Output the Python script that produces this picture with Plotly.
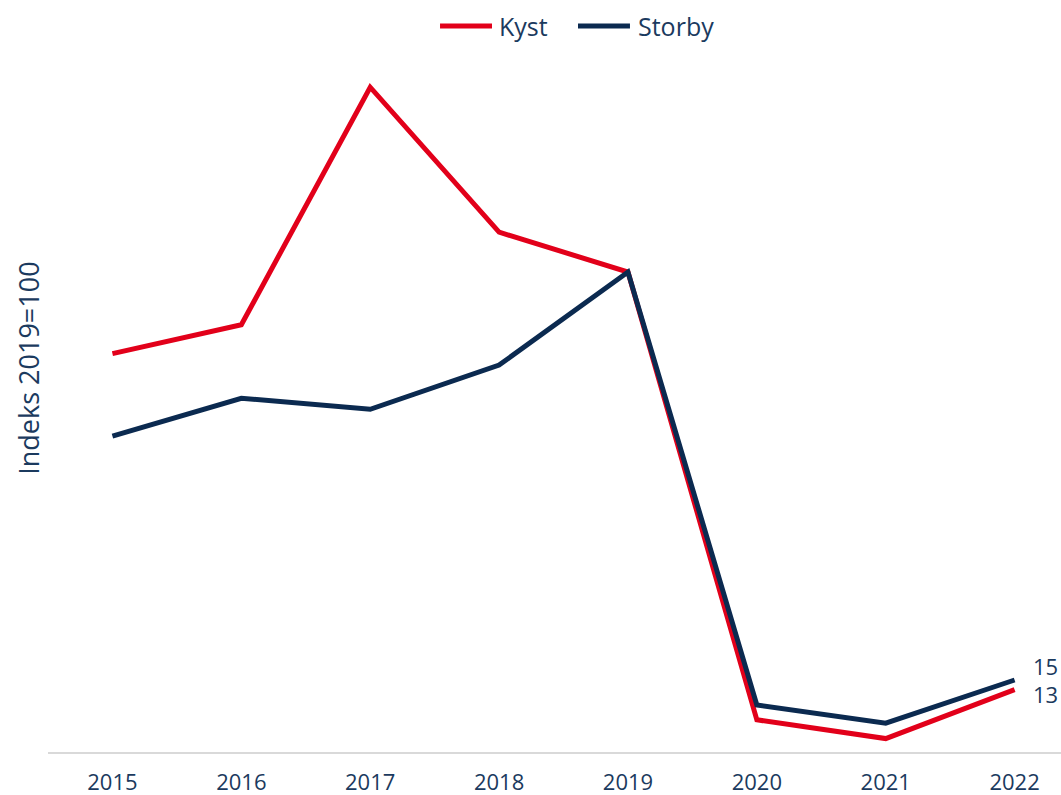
import plotly.graph_objects as go

years = ["2015", "2016", "2017", "2018", "2019", "2020", "2021", "2022"]
kyst = [83, 89, 138.5, 108.3, 100, 6.7, 2.8, 13]
storby = [65.8, 73.7, 71.4, 80.6, 100, 9.8, 6.0, 15]
series_names = ["Kyst", "Storby"]
end_labels = ["15", "13"]

RED = "#e2001a"
NAVY = "#0b2a50"
TXT = "#1b3a5e"
FONT = "Open Sans"

xs = list(range(len(years)))

fig = go.Figure()
fig.add_trace(go.Scatter(x=xs, y=kyst, mode="lines", name=series_names[0],
                         line=dict(color=RED, width=5), showlegend=False))
fig.add_trace(go.Scatter(x=xs, y=storby, mode="lines", name=series_names[1],
                         line=dict(color=NAVY, width=5), showlegend=False))

# end labels
fig.add_annotation(x=xs[-1], y=storby[-1], text=end_labels[0], showarrow=False,
                   xanchor="left", yanchor="middle", xshift=16, yshift=14,
                   font=dict(size=22, color=TXT, family=FONT))
fig.add_annotation(x=xs[-1], y=kyst[-1], text=end_labels[1], showarrow=False,
                   xanchor="left", yanchor="middle", xshift=16, yshift=-4,
                   font=dict(size=22, color=TXT, family=FONT))
# y-axis title
fig.add_annotation(xref="paper", yref="paper", x=-0.0188, y=0.552, text="Indeks 2019=100",
                   textangle=-90, showarrow=False, xanchor="center", yanchor="middle",
                   font=dict(size=27, color=TXT, family=FONT))

# custom legend (top)
leg_y = 1.0431
leg_items = [(0.387, 0.4383, 0.4432, RED, series_names[0]),
             (0.5232, 0.5745, 0.5805, NAVY, series_names[1])]
for x0, x1, xt, col, name in leg_items:
    fig.add_shape(type="line", xref="paper", yref="paper", x0=x0, x1=x1, y0=leg_y, y1=leg_y,
                  line=dict(color=col, width=5))
    fig.add_annotation(xref="paper", yref="paper", x=xt, y=leg_y, text=name, showarrow=False,
                       xanchor="left", yanchor="middle",
                       font=dict(size=25, color=TXT, family=FONT))

fig.update_layout(
    width=1061, height=795,
    margin=dict(l=48, r=0, t=56, b=43),
    paper_bgcolor="white", plot_bgcolor="white",
    font=dict(family=FONT, color=TXT, size=22),
    showlegend=False,
    xaxis=dict(tickmode="array", tickvals=xs, ticktext=years,
               range=[-0.5, 7.36], showgrid=False, zeroline=False,
               showline=True, linecolor="#d9d9d9", linewidth=2,
               ticks="", ticklabelstandoff=10, automargin=False,
               tickfont=dict(size=22, color=TXT, family=FONT)),
    yaxis=dict(range=[0, 145], showgrid=False, zeroline=False, showline=False,
               showticklabels=False, ticks="", automargin=False),
)

fig.write_html("out.html", config={"displayModeBar": False},
               post_script="document.body.style.margin='0';")
